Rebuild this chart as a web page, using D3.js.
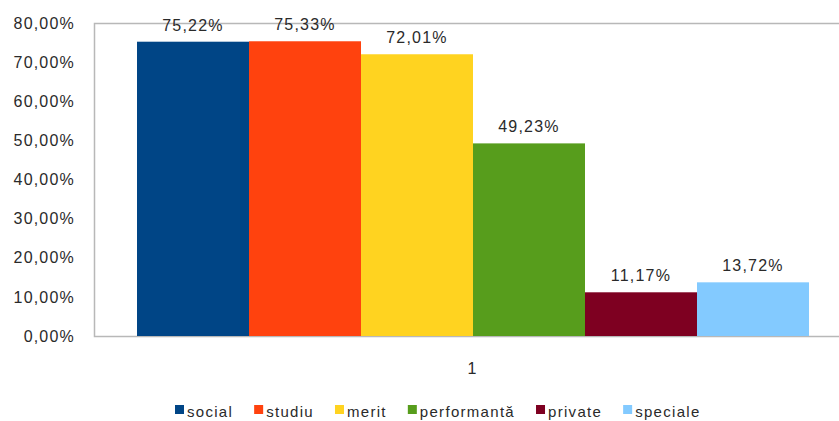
<!DOCTYPE html>
<html><head><meta charset="utf-8">
<script src="https://cdn.jsdelivr.net/npm/d3@7"></script>
<style>
body{margin:0;background:#fff;}
svg{display:block;}
text{font-family:"Liberation Sans",Arial,sans-serif;fill:#2a2a2a;}
</style></head>
<body><svg id="chart" width="839" height="421"></svg>
<script>
const categories = ["1"];
const seriesNames = ["social","studiu","merit","performantă","private","speciale"];
const seriesValues = [0.7522,0.7533,0.7201,0.4923,0.1117,0.1372];
const seriesColors = ["#004586","#ff420e","#ffd320","#579d1c","#7e0021","#83caff"];
const yTicks = [0,0.1,0.2,0.3,0.4,0.5,0.6,0.7,0.8];

const svg = d3.select("#chart");
const m = {left:94, top:23, right:852, bottom:336};
const fmt = v => d3.format(".2f")(v*100).replace(".",",") + "%";

const y = d3.scaleLinear().domain([0,0.8]).range([m.bottom,m.top]);
const x0 = d3.scaleBand().domain(categories).range([m.left,m.right]).paddingInner(0).paddingOuter(0.064);
const x1 = d3.scaleBand().domain(seriesNames).range([0,x0.bandwidth()]).padding(0);

// frame
svg.append("rect").attr("x",m.left+0.5).attr("y",m.top+0.5)
  .attr("width",m.right-m.left).attr("height",m.bottom-m.top)
  .attr("fill","none").attr("stroke","#b8b8b8").attr("stroke-width",1.5);

// y axis labels
const yAxis = d3.axisLeft(y).tickValues(yTicks).tickFormat(fmt).tickSize(0).tickPadding(19);
const ga = svg.append("g").attr("transform",`translate(${m.left},0)`).call(yAxis);
ga.select(".domain").remove();
ga.selectAll("text").style("font-size","16px").style("letter-spacing","1.2px")
  .attr("fill","#2a2a2a").style("font-family","'Liberation Sans',Arial,sans-serif");

// bars
const g = svg.append("g");
categories.forEach(c => {
  seriesNames.forEach((s,i) => {
    const bx = x0(c) + x1(s);
    g.append("rect").attr("x",bx).attr("y",y(seriesValues[i]))
      .attr("width",x1.bandwidth()).attr("height",y(0)-y(seriesValues[i]))
      .attr("fill",seriesColors[i]);
    g.append("text").attr("x",bx + x1.bandwidth()/2).attr("y",y(seriesValues[i]) - 11)
      .attr("text-anchor","middle").style("font-size","16px").style("letter-spacing","1.2px")
      .text(fmt(seriesValues[i]));
  });
  svg.append("text").attr("x",x0(c)+x0.bandwidth()/2 - 1).attr("y",374)
    .attr("text-anchor","middle").style("font-size","16px").text(c);
});

// legend
const lg = svg.append("g");
let lx = 175;
seriesNames.forEach((s,i) => {
  lg.append("rect").attr("x",lx).attr("y",405).attr("width",9).attr("height",9).attr("fill",seriesColors[i]);
  const t = lg.append("text").attr("x",lx+12).attr("y",417).style("font-size","15px")
    .style("letter-spacing","1.3px").text(s);
  lx += 12 + t.node().getComputedTextLength() + 21;
});
</script></body></html>
